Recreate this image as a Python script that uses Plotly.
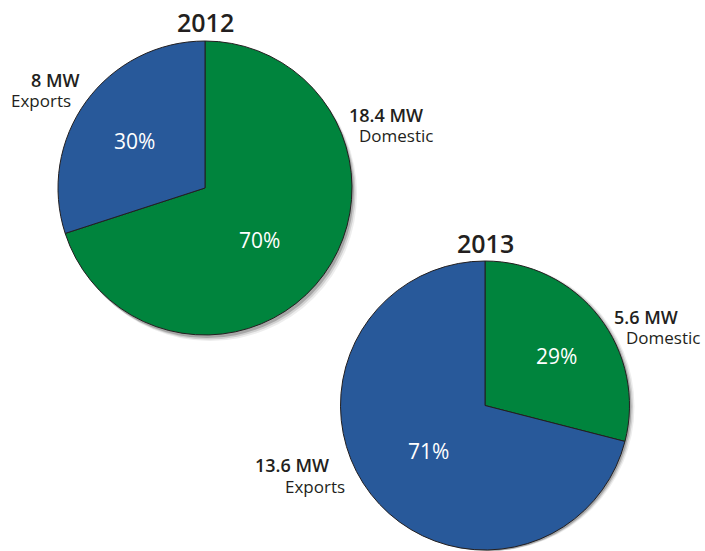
import plotly.graph_objects as go

years = ["2012", "2013"]
categories = ["Domestic", "Exports"]
mw_2012 = [18.4, 8]
mw_2013 = [5.6, 13.6]
pct_2012 = [70, 30]
pct_2013 = [29, 71]
colors = ["#00843d", "#28599a"]

W, H = 705, 551
FONT = "Open Sans"
DARK = "#231f20"

def px(x):
    return min(max(x / W, 0), 1)

def py(y):
    return min(max(1 - y / H, 0), 1)

fig = go.Figure()

pies = [
    (pct_2012, (58, 352), (41, 335)),
    (pct_2013, (340.5, 629.5), (261, 550)),
]

# soft drop shadows
for vals, (x0, x1), (y0, y1) in pies:
    for (dx, dy, a) in [(5, 6, 0.07), (3.5, 4.5, 0.12), (2, 3, 0.2)]:
        dy_eff = min(dy, H - y1)
        fig.add_trace(go.Pie(
            values=[sum(vals)], sort=False, textinfo="none", hoverinfo="skip", showlegend=False,
            marker=dict(colors=[f"rgba(0,0,0,{a})"], line=dict(width=0)),
            domain=dict(x=[px(x0 + dx), px(x1 + dx)], y=[py(y1 + dy_eff), py(y0 + dy_eff)]),
        ))

for vals, (x0, x1), (y0, y1) in pies:
    fig.add_trace(go.Pie(
        labels=categories, values=vals, sort=False, direction="clockwise", rotation=0,
        marker=dict(colors=colors, line=dict(color=DARK, width=1)),
        textinfo="none", hoverinfo="label+value", showlegend=False,
        domain=dict(x=[px(x0), px(x1)], y=[py(y1), py(y0)]),
    ))

ann = []
def txt(x, y, s, size, color=DARK, xanchor="center", weight=400):
    ann.append(dict(x=px(x), y=py(y), xref="paper", yref="paper", text=s,
                    showarrow=False, xanchor=xanchor, yanchor="middle",
                    font=dict(family=FONT, size=size, color=color, weight=weight)))

# titles
txt(206, 22, years[0], 25, weight=600)
txt(485, 243, years[1], 25, weight=600)

# percentage labels
txt(259, 240, f"{pct_2012[0]}%", 21, "white")
txt(134, 141, f"{pct_2012[1]}%", 21, "white")
txt(556, 356, f"{pct_2013[0]}%", 21, "white")
txt(428, 451, f"{pct_2013[1]}%", 21, "white")

def fmt(v):
    return f"{v:g} MW"

# outside labels 2012
txt(82, 80, fmt(mw_2012[1]), 18, xanchor="right", weight=600)
txt(73, 101, categories[1], 17, xanchor="right")
txt(347, 115, fmt(mw_2012[0]), 18, xanchor="left", weight=600)
txt(357, 135, categories[0], 17, xanchor="left")
# outside labels 2013
txt(612, 317, fmt(mw_2013[0]), 18, xanchor="left", weight=600)
txt(624, 337, categories[0], 17, xanchor="left")
txt(331, 465, fmt(mw_2013[1]), 18, xanchor="right", weight=600)
txt(347, 486, categories[1], 17, xanchor="right")

fig.update_layout(
    width=W, height=H, margin=dict(l=0, r=0, t=0, b=0),
    paper_bgcolor="white", plot_bgcolor="white",
    annotations=ann,
)

fig.write_html("out.html", config={"displayModeBar": False},
               post_script="document.body.style.margin='0';")
